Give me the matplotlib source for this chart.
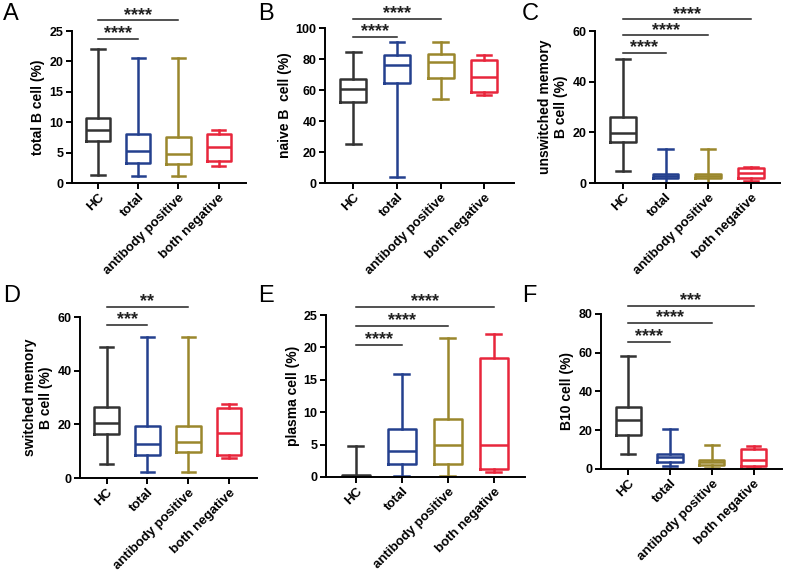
import matplotlib

matplotlib.use("Agg")
import matplotlib.pyplot as plt

plt.rcParams["font.family"] = ["Liberation Sans", "DejaVu Sans"]

GROUPS = ["HC", "total", "antibody positive", "both negative"]
COLORS = ["#333333", "#24408e", "#9a872c", "#e8263c"]

# five-number summaries per group: (min, q1, median, q3, max)
TOTAL_B = [(1.3, 6.9, 8.8, 10.7, 22.1), (1.1, 3.3, 5.3, 8.1, 20.6),
           (1.1, 3.1, 4.7, 7.5, 20.6), (2.8, 3.7, 6.0, 8.0, 8.8)]
NAIVE_B = [(25.5, 52.5, 60.5, 67.2, 84.7), (3.9, 64.8, 76.0, 82.3, 90.7),
           (54.2, 67.6, 78.2, 83.4, 90.7), (56.8, 58.5, 68.3, 79.5, 82.3)]
UNSWITCHED = [(4.7, 16.1, 19.9, 25.9, 48.8), (0.2, 1.8, 2.7, 3.5, 13.6),
              (0.2, 1.8, 2.8, 3.5, 13.6), (1.0, 1.8, 3.9, 5.8, 6.3)]
SWITCHED = [(5.2, 16.5, 20.6, 26.3, 48.8), (2.4, 8.6, 12.8, 19.3, 52.5),
            (2.4, 9.8, 13.4, 19.5, 52.5), (7.4, 8.7, 16.6, 26.0, 27.6)]
PLASMA = [(0.0, 0.0, 0.1, 0.3, 4.8), (0.1, 2.05, 4.0, 7.4, 15.9),
          (0.1, 2.05, 5.0, 8.9, 21.4), (0.7, 1.2, 5.0, 18.4, 22.0)]
B10 = [(7.6, 17.7, 25.1, 32.0, 58.5), (1.4, 3.4, 6.2, 7.9, 20.6),
       (0.5, 1.9, 3.4, 4.8, 12.6), (0.5, 1.4, 4.8, 10.5, 11.7)]

# significance brackets: (target group index, line height, label)
SIG_A = [(1, 23.7, "****"), (2, 26.75, "****")]
SIG_B = [(1, 94.2, "****"), (2, 105.8, "****")]
SIG_C = [(1, 51.4, "****"), (2, 58.3, "****"), (3, 64.6, "****")]
SIG_D = [(1, 57.2, "***"), (2, 63.9, "**")]
SIG_E = [(1, 20.4, "****"), (2, 23.3, "****"), (3, 26.3, "****")]
SIG_F = [(1, 65.6, "****"), (2, 75.2, "****"), (3, 84.3, "***")]

PANELS = [
    ("A", TOTAL_B, SIG_A, "total B cell (%)", (0, 25), range(0, 26, 5), [0.0911, 0.680, 0.2203, 0.2657]),
    ("B", NAIVE_B, SIG_B, "naive B  cell (%)", (0, 100), range(0, 101, 20), [0.4114, 0.680, 0.2392, 0.2710]),
    ("C", UNSWITCHED, SIG_C, "unswitched memory\nB cell (%)", (0, 60), range(0, 61, 20), [0.7532, 0.680, 0.2342, 0.2657]),
    ("D", SWITCHED, SIG_D, "switched memory\nB cell (%)", (0, 60), range(0, 61, 20), [0.1013, 0.1643, 0.2240, 0.2815]),
    ("E", PLASMA, SIG_E, "plasma cell (%)", (0, 25), range(0, 26, 5), [0.4127, 0.1661, 0.2519, 0.2832]),
    ("F", B10, SIG_F, "B10 cell (%)", (0, 80), range(0, 81, 20), [0.7608, 0.1801, 0.2291, 0.2710]),
]
LETTER_POS = {"A": (0.004, 0.995), "B": (0.327, 0.995), "C": (0.661, 0.995),
              "D": (0.004, 0.502), "E": (0.327, 0.502), "F": (0.661, 0.502)}


def draw_panel(fig, letter, summaries, sigs, ylabel, ylim, yticks, rect):
    ax = fig.add_axes(rect)
    stats = [
        {"whislo": s[0], "q1": s[1], "med": s[2], "q3": s[3], "whishi": s[4], "fliers": []}
        for s in summaries
    ]
    art = ax.bxp(stats, positions=range(len(stats)), widths=0.6, capwidths=0.33,
                 showfliers=False, manage_ticks=False)
    for i, color in enumerate(COLORS):
        art["boxes"][i].set(color=color, linewidth=1.8)
        art["medians"][i].set(color=color, linewidth=1.8)
        for k in (2 * i, 2 * i + 1):
            art["whiskers"][k].set(color=color, linewidth=1.8)
            art["caps"][k].set(color=color, linewidth=1.8)

    ax.set_xlim(-0.65, 3.68)
    ax.set_ylim(*ylim)
    ax.set_yticks(list(yticks))
    ax.set_xticks(range(len(GROUPS)))
    ax.set_xticklabels(GROUPS, rotation=45, ha="right", rotation_mode="anchor",
                       fontsize=9.5, fontweight="bold")
    for lab in ax.get_yticklabels():
        lab.set_fontweight("bold")
        lab.set_fontsize(9)
    ax.set_ylabel(ylabel, fontsize=10, fontweight="bold", labelpad=3)
    for side in ("top", "right"):
        ax.spines[side].set_visible(False)
    for side in ("left", "bottom"):
        ax.spines[side].set_linewidth(1.4)
    ax.tick_params(direction="out", length=4, width=1.4, pad=2)

    for target, y, label in sigs:
        ax.plot([0, target], [y, y], color="#222222", linewidth=1.1, clip_on=False)
        ax.annotate(label, xy=(target / 2, y), xytext=(0, 0.5), textcoords="offset points",
                    ha="center", va="baseline", fontsize=13, fontweight="bold",
                    color="#222222", annotation_clip=False)

    lx, ly = LETTER_POS[letter]
    fig.text(lx, ly, letter, fontsize=17, ha="left", va="top")
    return ax


def main():
    fig = plt.figure(figsize=(7.9, 5.72), dpi=100)
    for letter, data, sigs, ylabel, ylim, yticks, rect in PANELS:
        draw_panel(fig, letter, data, sigs, ylabel, ylim, yticks, rect)
    fig.savefig("out.png", dpi=100)
    plt.close(fig)


if __name__ == "__main__":
    main()
